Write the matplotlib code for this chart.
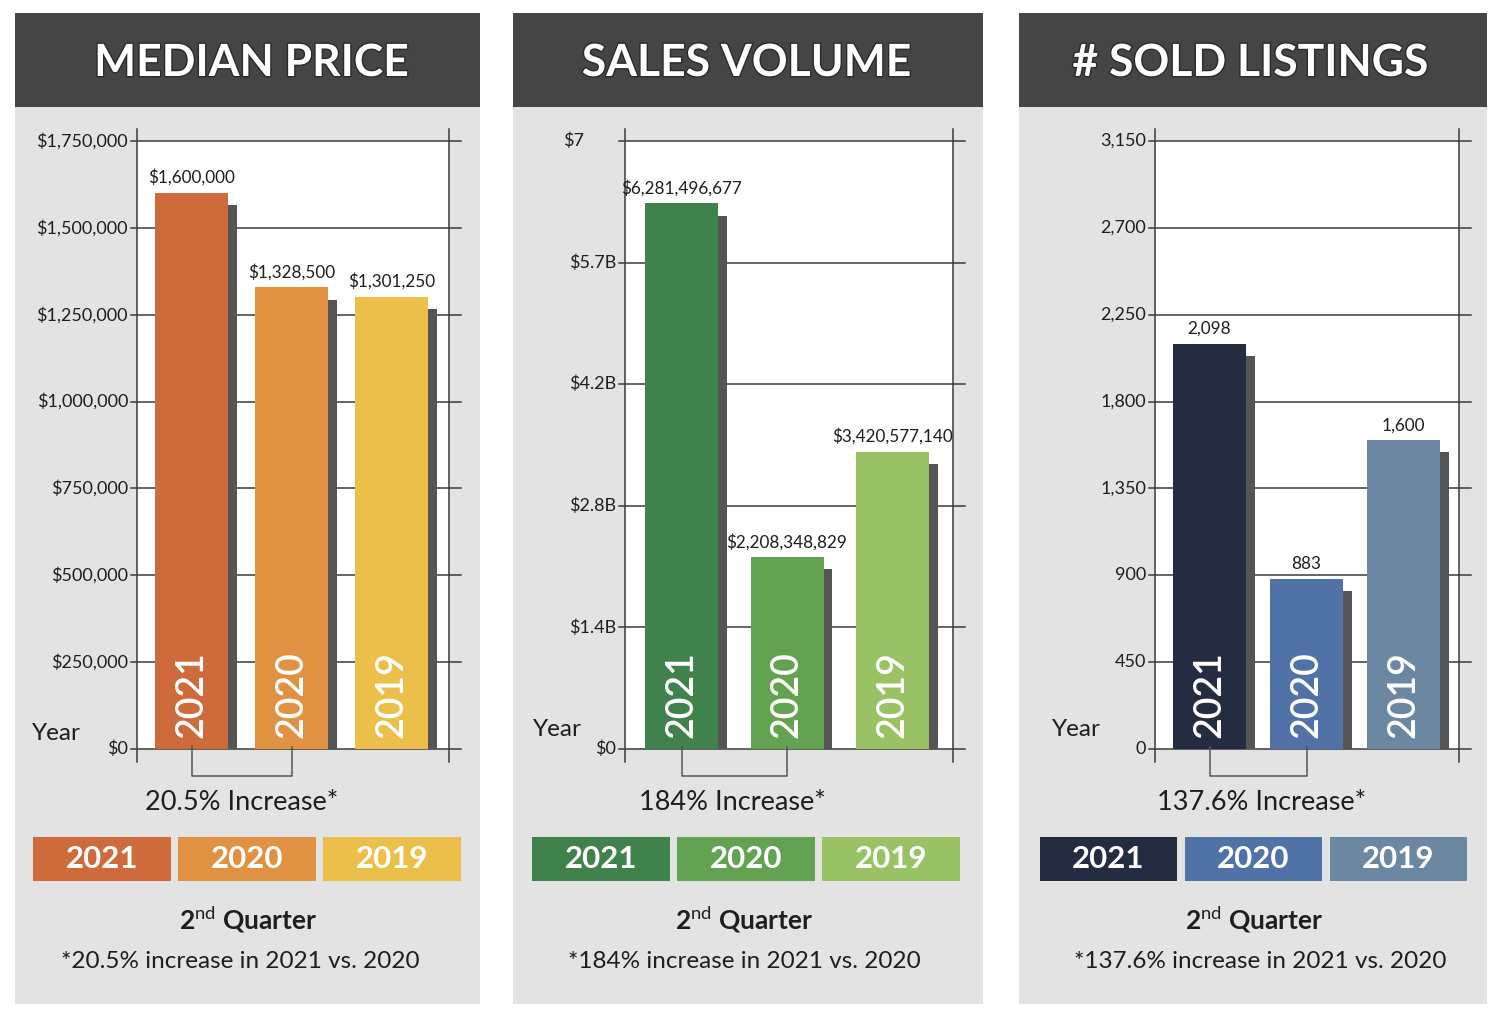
import matplotlib
matplotlib.use('Agg')
import matplotlib.pyplot as plt
from matplotlib.patches import Rectangle
import matplotlib.patheffects as pe

plt.rcParams['font.family'] = ['Lato', 'DejaVu Sans']
plt.rcParams['mathtext.fontset'] = 'custom'
plt.rcParams['mathtext.rm'] = 'Lato'
plt.rcParams['mathtext.bf'] = 'Lato:bold'

# ---------------- data ----------------
years = ['2021', '2020', '2019']

titles = ['MEDIAN PRICE', 'SALES VOLUME', '# SOLD LISTINGS']

price_values = [1600000, 1328500, 1301250]
price_labels = ['$1,600,000', '$1,328,500', '$1,301,250']
price_ticks = [0, 250000, 500000, 750000, 1000000, 1250000, 1500000, 1750000]
price_ticklabels = ['$0', '$250,000', '$500,000', '$750,000', '$1,000,000',
                    '$1,250,000', '$1,500,000', '$1,750,000']

volume_values = [6281496677, 2208348829, 3420577140]
volume_labels = ['$6,281,496,677', '$2,208,348,829', '$3,420,577,140']
volume_ticks = [0, 1.4e9, 2.8e9, 4.2e9, 5.6e9, 7.0e9]
volume_ticklabels = ['$0', '$1.4B', '$2.8B', '$4.2B', '$5.7B', '$7']

listings_values = [2098, 883, 1600]
listings_labels = ['2,098', '883', '1,600']
listings_ticks = [0, 450, 900, 1350, 1800, 2250, 2700, 3150]
listings_ticklabels = ['0', '450', '900', '1,350', '1,800', '2,250', '2,700', '3,150']

increase_texts = ['20.5% Increase*', '184% Increase*', '137.6% Increase*']
footnotes = ['*20.5% increase in 2021 vs. 2020',
             '*184% increase in 2021 vs. 2020',
             '*137.6% increase in 2021 vs. 2020']

price_colors = ['#cf6a3a', '#e09142', '#ecbf4a']
volume_colors = ['#3f824b', '#63a251', '#98c263']
listings_colors = ['#232c40', '#5072a7', '#6b87a1']

# ---------------- layout ----------------
W, H = 1500, 1016
fig = plt.figure(figsize=(15, 10.16), dpi=100)
fig.patch.set_facecolor('white')

def fx(x):
    return x / W

def fy(y):
    return 1 - y / H

def frect(x0, y0, x1, y1, color, z=-1):
    fig.add_artist(Rectangle((fx(x0), fy(y1)), (x1 - x0) / W, (y1 - y0) / H,
                             transform=fig.transFigure, facecolor=color,
                             edgecolor='none', zorder=z))

panels = [
    dict(px0=15, px1=480, ax_l=137, ax_r=449, c0=191.5, s=100.0,
         values=price_values, labels=price_labels, ticks=price_ticks,
         ticklabels=price_ticklabels, colors=price_colors, top_left=False,
         year_x=56, year_y=733, inc_x=242, q_x=248, fn_x=240,
         leg=[(33, 171), (178, 316), (323, 461)], title_x=252),
    dict(px0=513, px1=983, ax_l=625, ax_r=953, c0=681.5, s=105.5,
         values=volume_values, labels=volume_labels, ticks=volume_ticks,
         ticklabels=volume_ticklabels, colors=volume_colors, top_left=True,
         year_x=557, year_y=729, inc_x=732, q_x=744, fn_x=744,
         leg=[(532, 670), (677, 815), (822, 960)], title_x=747),
    dict(px0=1019, px1=1487, ax_l=1155, ax_r=1459, c0=1209.5, s=97.0,
         values=listings_values, labels=listings_labels, ticks=listings_ticks,
         ticklabels=listings_ticklabels, colors=listings_colors, top_left=False,
         year_x=1076, year_y=729, inc_x=1262, q_x=1254, fn_x=1260,
         leg=[(1040, 1177), (1185, 1322), (1330, 1467)], title_x=1251),
]

AX_T, AX_B = 141, 749
line_col = '#3a3a3a'
shadow_col = '#555555'
txt_col = '#1e1e1e'

for k, p in enumerate(panels):
    # panel background + header
    frect(p['px0'], 107, p['px1'], 1004, '#e3e3e3')
    frect(p['px0'], 13, p['px1'], 107, '#454545')
    fig.text(fx(p['title_x']), fy(63), titles[k], color='white', fontsize=32,
             fontweight='bold', ha='center', va='center',
             path_effects=[pe.withStroke(linewidth=2, foreground='#2a2a2a')])

    l, r = p['ax_l'], p['ax_r']
    wpx, hpx = r - l, AX_B - AX_T
    ax = fig.add_axes([fx(l), fy(AX_B), wpx / W, hpx / H])
    ax.set_facecolor('white')
    for sp in ax.spines.values():
        sp.set_visible(False)
    ax.set_xlim((l - p['c0']) / p['s'], (r - p['c0']) / p['s'])
    ymax = p['ticks'][-1]
    ax.set_ylim(0, ymax)
    ax.set_xticks([])
    ax.set_yticks([])

    ytr = ax.get_yaxis_transform()
    # y tick labels
    n = len(p['ticks'])
    for i, (t, tl) in enumerate(zip(p['ticks'], p['ticklabels'])):
        if p['top_left'] and i == n - 1:
            ax.text(-62 / wpx, t, tl, transform=ytr, ha='left', va='center',
                    fontsize=13, color=txt_col)
        else:
            ax.text(-9 / wpx, t, tl, transform=ytr, ha='right', va='center',
                    fontsize=13, color=txt_col)

    # grid lines (extend past the frame)
    for t in p['ticks']:
        ax.plot([-6 / wpx, 1 + 12 / wpx], [t, t], transform=ytr, color=line_col,
                lw=1.1, clip_on=False, zorder=1)
    for xa in (0, 1):
        ax.plot([xa, xa], [-13 / hpx, 1 + 12 / hpx], transform=ax.transAxes,
                color=line_col, lw=1.1, clip_on=False, zorder=1)

    bw = 73 / p['s']
    sw = 8.5 / p['s']
    xs = list(range(len(years)))
    # shadows
    ax.bar([x + bw / 2 + sw / 2 for x in xs],
           [v - 0.02 * ymax for v in p['values']], width=sw,
           color=shadow_col, zorder=2)
    # bars
    ax.bar(xs, p['values'], width=bw, color=p['colors'], zorder=3)

    for x, v, lab, yr in zip(xs, p['values'], p['labels'], years):
        ax.annotate(lab, (x, v), xytext=(0, 7), textcoords='offset pixels',
                    ha='center', va='bottom', fontsize=12.3, color=txt_col,
                    zorder=5)
        ax.annotate(yr, (x, 0), xytext=(0, 11), textcoords='offset pixels',
                    ha='center', va='bottom', rotation=90, fontsize=27,
                    fontweight='semibold', color='white', zorder=5)

    # bracket between 2021 and 2020
    xtr = ax.get_xaxis_transform()
    ax.plot([0, 0, 1, 1], [2 / hpx, -27 / hpx, -27 / hpx, 2 / hpx], transform=xtr,
            color='#555555', lw=1.1, clip_on=False, zorder=4)

    # Year label
    fig.text(fx(p['year_x']), fy(p['year_y']), 'Year', fontsize=17.5, color=txt_col,
             ha='center', va='center')

    fig.text(fx(p['inc_x']), fy(802), increase_texts[k], fontsize=19.5,
             color=txt_col, ha='center', va='center')

    # legend boxes
    for (a, b), c, yr in zip(p['leg'], p['colors'], years):
        frect(a, 837, b, 881, c, z=1)
        fig.text(fx((a + b) / 2), fy(859), yr, fontsize=22.5, fontweight='bold',
                 color='white', ha='center', va='center', zorder=2)

    fig.text(fx(p['q_x']), fy(919), r'2$^{\mathrm{nd}}$ Quarter', fontsize=19,
             fontweight='bold', color=txt_col, ha='center', va='center')
    fig.text(fx(p['fn_x']), fy(962), footnotes[k], fontsize=17.5,
             color=txt_col, ha='center', va='center')

fig.savefig('out.png', dpi=100)
